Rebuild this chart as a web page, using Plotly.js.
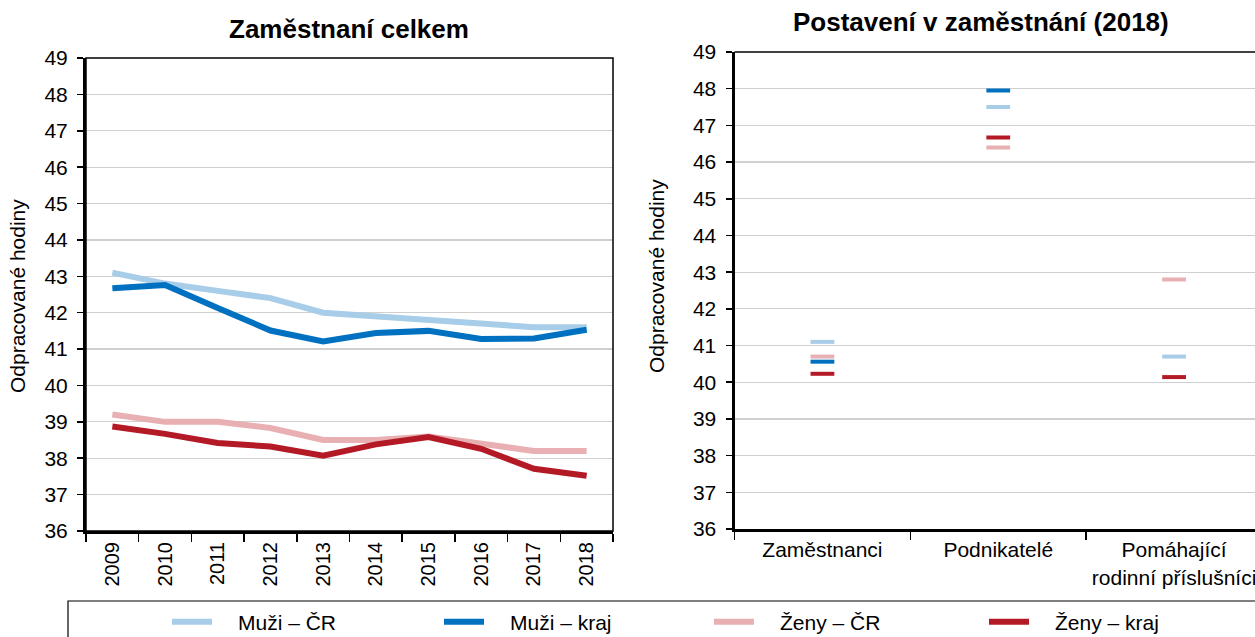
<!DOCTYPE html>
<html><head><meta charset="utf-8">
<script src="https://cdn.plot.ly/plotly-3.0.1.min.js"></script>
<style>html,body{margin:0;padding:0;overflow:hidden;background:#fff}#chart{width:1262px;height:637px}</style>
</head><body><div id="chart"></div>
<script>
// ---- data ----
const years = ['2009','2010','2011','2012','2013','2014','2015','2016','2017','2018'];
const muziCR   = [43.1, 42.8, 42.6, 42.4, 42.0, 41.9, 41.8, 41.7, 41.6, 41.6];
const muziKraj = [42.67, 42.76, 42.13, 41.51, 41.21, 41.44, 41.5, 41.28, 41.29, 41.53];
const zenyCR   = [39.2, 39.0, 39.0, 38.83, 38.5, 38.5, 38.6, 38.42, 38.2, 38.2];
const zenyKraj = [38.87, 38.67, 38.42, 38.32, 38.07, 38.38, 38.58, 38.26, 37.71, 37.52];

const statusCats = ['Zaměstnanci', 'Podnikatelé', 'Pomáhající<br>rodinní příslušníci'];
const pMuziCR   = [41.1, 47.5, 40.7];
const pMuziKraj = [40.56, 47.95, null];
const pZenyCR   = [40.7, 46.4, 42.8];
const pZenyKraj = [40.23, 46.67, 40.14];

const seriesNames = ['Muži – ČR', 'Muži – kraj', 'Ženy – ČR', 'Ženy – kraj'];
const colors = ['#a7cde8', '#0070c0', '#e8b0b3', '#b41a26'];

// ---- layout helpers ----
const W = 1262, H = 637;
const px = v => v / W;
const py = v => 1 - v / H;
const FONT = 'Liberation Sans, Arial, sans-serif';

const lineSeries = [muziCR, muziKraj, zenyCR, zenyKraj];
const dotSeries = [pMuziCR, pMuziKraj, pZenyCR, pZenyKraj];
const legendIds = ['legend', 'legend2', 'legend3', 'legend4'];
const legendX = [167, 439, 709, 984];

const traces = [];
lineSeries.forEach((s, i) => {
  traces.push({
    x: years, y: s, type: 'scatter', mode: 'lines', name: '\u2003' + seriesNames[i],
    line: {color: colors[i], width: 6}, xaxis: 'x', yaxis: 'y', showlegend: true, legend: legendIds[i]
  });
});
[2, 0, 1, 3].forEach(i => {
  traces.push({
    x: statusCats, y: dotSeries[i], type: 'scatter', mode: 'markers', name: seriesNames[i],
    marker: {symbol: 'line-ew', size: 17, color: colors[i], line: {color: colors[i], width: 4}},
    xaxis: 'x2', yaxis: 'y2', showlegend: false
  });
});

const yBase = {
  range: [36, 49], dtick: 1, tick0: 36, showgrid: true, gridcolor: '#d0d0d0', gridwidth: 1.2,
  ticks: 'outside', ticklen: 6, tickwidth: 1.5, tickcolor: '#000', ticklabelstandoff: 5,
  showline: true, linecolor: '#000', linewidth: 3, zeroline: false,
  tickfont: {family: FONT, size: 21, color: '#000'}, fixedrange: true, automargin: false
};
const xBase = {
  type: 'category', showgrid: false, ticks: 'outside', ticklen: 8, tickwidth: 1.5, tickcolor: '#000',
  tickson: 'boundaries', showline: true, linecolor: '#000', linewidth: 3, zeroline: false,
  fixedrange: true, automargin: false
};

const layout = {
  width: W, height: H, margin: {l: 0, r: 0, t: 0, b: 0, autoexpand: false},
  paper_bgcolor: '#fff', plot_bgcolor: '#fff',
  font: {family: FONT, color: '#000'},
  xaxis: Object.assign({}, xBase, {domain: [px(86), px(613)], range: [-0.5, 9.5], tickangle: -90, anchor: 'y',
    tickfont: {family: FONT, size: 20, color: '#000'}}),
  yaxis: Object.assign({}, yBase, {domain: [py(531), py(58)], anchor: 'x'}),
  xaxis2: Object.assign({}, xBase, {domain: [px(734.5), 1], range: [-0.5, 2.5], tickangle: 0, anchor: 'y2',
    tickfont: {family: FONT, size: 21, color: '#000'}}),
  yaxis2: Object.assign({}, yBase, {domain: [py(529), py(52)], anchor: 'x2'}),
  showlegend: true,
  shapes: [
    {type: 'rect', xref: 'paper', yref: 'paper', x0: px(86), x1: px(613), y0: py(531), y1: py(58),
     line: {color: '#000', width: 1.5}, fillcolor: 'rgba(0,0,0,0)'},
    {type: 'line', xref: 'paper', yref: 'paper', x0: px(734.5), x1: 1, y0: py(52), y1: py(52),
     line: {color: '#000', width: 1.5}},
    {type: 'rect', xref: 'paper', yref: 'paper', x0: px(68), x1: px(1275), y0: py(601), y1: py(660),
     line: {color: '#000', width: 1.2}, fillcolor: 'rgba(0,0,0,0)'}
  ],
  annotations: [
    {text: '<b>Zaměstnaní celkem</b>', xref: 'paper', yref: 'paper', x: px(349), y: py(29),
     showarrow: false, font: {family: FONT, size: 26, color: '#000'}, xanchor: 'center', yanchor: 'middle'},
    {text: '<b>Postavení v zaměstnání (2018)</b>', xref: 'paper', yref: 'paper', x: px(981), y: py(22),
     showarrow: false, font: {family: FONT, size: 26, color: '#000'}, xanchor: 'center', yanchor: 'middle'},
    {text: 'Odpracované hodiny', xref: 'paper', yref: 'paper', x: px(18), y: py(296), textangle: -90,
     showarrow: false, font: {family: FONT, size: 21, color: '#000'}, xanchor: 'center', yanchor: 'middle'},
    {text: 'Odpracované hodiny', xref: 'paper', yref: 'paper', x: px(657), y: py(276), textangle: -90,
     showarrow: false, font: {family: FONT, size: 21, color: '#000'}, xanchor: 'center', yanchor: 'middle'}
  ]
};
legendIds.forEach((id, i) => {
  layout[id] = {
    orientation: 'h', xref: 'paper', yref: 'paper',
    x: px(legendX[i]), xanchor: 'left', y: py(622), yanchor: 'middle',
    font: {family: FONT, size: 21, color: '#000'}, bgcolor: 'rgba(0,0,0,0)', borderwidth: 0,
    itemwidth: 40
  };
});

Plotly.newPlot('chart', traces, layout, {displayModeBar: false, staticPlot: true});
</script>
</body></html>
